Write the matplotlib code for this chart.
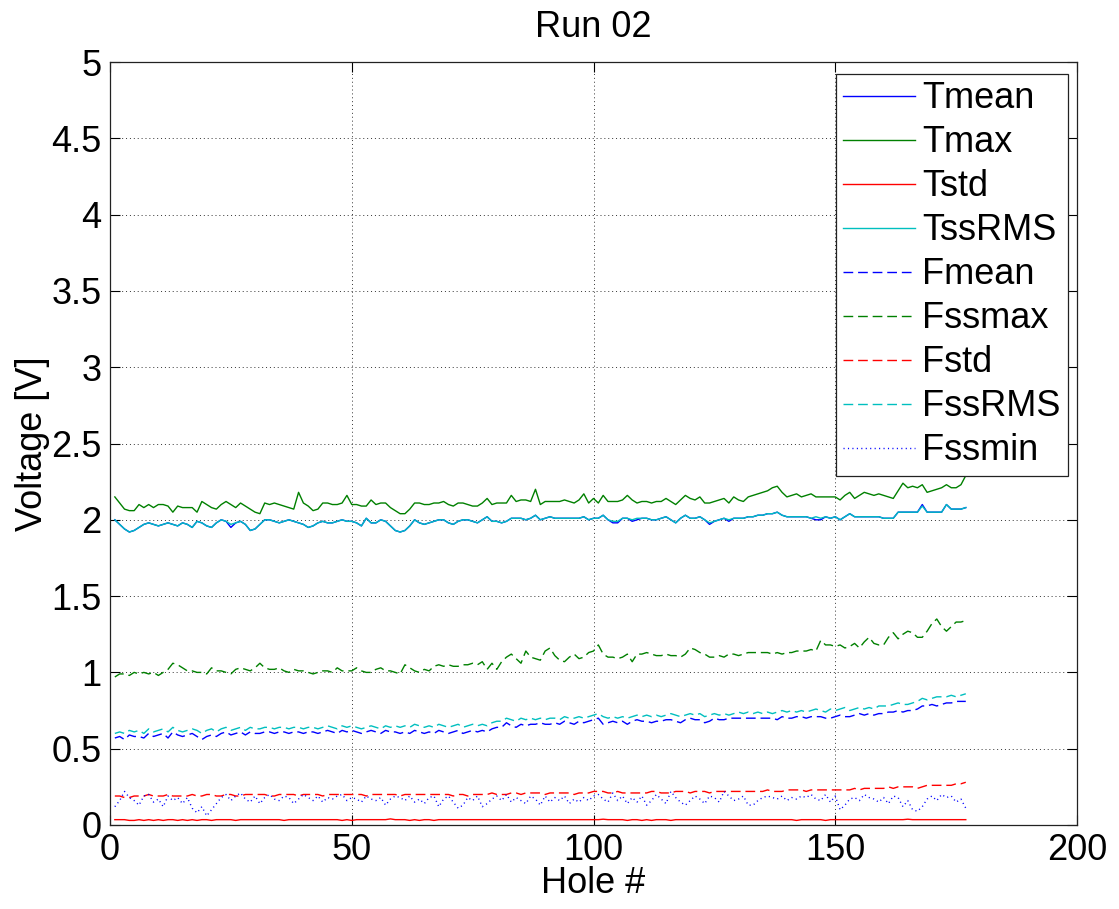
import matplotlib
matplotlib.use("Agg")
import matplotlib.pyplot as plt
import numpy as np

holes = list(range(1, 178))

tmax = [2.15,2.11,2.07,2.06,2.06,2.10,2.08,2.10,2.08,2.10,
        2.10,2.09,2.05,2.09,2.08,2.08,2.08,2.05,2.12,2.10,
        2.08,2.07,2.10,2.12,2.10,2.08,2.11,2.09,2.07,2.05,
        2.04,2.11,2.10,2.11,2.10,2.09,2.08,2.07,2.18,2.11,
        2.09,2.06,2.07,2.11,2.11,2.10,2.10,2.11,2.16,2.10,
        2.10,2.09,2.09,2.13,2.10,2.11,2.11,2.08,2.06,2.04,
        2.04,2.07,2.11,2.11,2.10,2.10,2.11,2.11,2.12,2.10,
        2.09,2.11,2.11,2.10,2.09,2.09,2.11,2.14,2.10,2.11,
        2.11,2.11,2.16,2.12,2.13,2.13,2.12,2.20,2.10,2.12,
        2.12,2.12,2.12,2.13,2.12,2.11,2.13,2.17,2.11,2.14,
        2.11,2.16,2.12,2.12,2.12,2.13,2.16,2.13,2.11,2.12,
        2.12,2.11,2.12,2.12,2.14,2.12,2.10,2.13,2.16,2.14,
        2.13,2.15,2.11,2.11,2.12,2.13,2.14,2.11,2.15,2.13,
        2.12,2.15,2.16,2.17,2.18,2.19,2.21,2.22,2.18,2.15,
        2.16,2.17,2.15,2.16,2.17,2.15,2.15,2.15,2.15,2.15,
        2.13,2.16,2.18,2.14,2.16,2.18,2.17,2.16,2.17,2.16,
        2.15,2.14,2.19,2.24,2.21,2.22,2.21,2.23,2.18,2.19,
        2.20,2.21,2.23,2.21,2.21,2.23,2.29]

tssrms = [2.00,1.97,1.94,1.92,1.93,1.95,1.97,1.98,1.97,1.96,
          1.97,1.98,1.97,1.96,1.98,1.97,1.95,1.99,1.98,1.96,
          1.95,1.98,2.00,1.99,1.97,1.98,1.99,1.97,1.93,1.94,
          1.97,2.00,2.00,1.99,1.98,1.99,2.00,1.99,1.98,1.97,
          1.95,1.96,1.98,1.99,1.98,1.98,1.99,2.00,1.99,1.99,
          1.98,1.96,2.01,1.98,1.98,2.00,1.99,1.96,1.93,1.92,
          1.93,1.96,2.00,1.98,1.97,1.98,1.99,2.00,2.00,1.98,
          1.97,1.99,2.00,2.00,1.99,1.98,2.00,2.02,1.99,1.99,
          1.98,1.99,2.01,2.01,2.01,2.00,2.01,2.03,2.00,2.01,
          2.02,2.01,2.01,2.01,2.01,2.01,2.01,2.02,2.00,2.01,
          2.01,2.03,2.00,1.99,1.99,2.01,2.01,2.00,2.01,2.01,
          2.01,2.00,2.00,2.01,2.02,2.00,1.98,2.01,2.03,2.01,
          2.01,2.02,2.00,1.98,1.99,2.00,2.01,2.00,2.01,2.01,
          2.01,2.02,2.02,2.03,2.03,2.04,2.04,2.05,2.03,2.02,
          2.02,2.02,2.02,2.02,2.01,2.02,2.01,2.02,2.01,2.02,
          2.00,2.02,2.04,2.02,2.02,2.02,2.02,2.02,2.02,2.01,
          2.01,2.01,2.05,2.05,2.05,2.05,2.05,2.09,2.05,2.05,
          2.05,2.05,2.10,2.07,2.07,2.07,2.08]

tmean = [2.00,1.97,1.94,1.92,1.93,1.95,1.97,1.98,1.97,1.96,
         1.97,1.98,1.97,1.96,1.98,1.97,1.95,1.99,1.98,1.96,
         1.95,1.98,2.00,1.99,1.95,1.98,1.99,1.97,1.93,1.94,
         1.97,2.00,2.00,1.99,1.98,1.99,2.00,1.99,1.98,1.97,
         1.95,1.96,1.98,1.99,1.98,1.98,1.99,2.00,1.99,1.99,
         1.98,1.96,2.01,1.98,1.98,2.00,1.99,1.96,1.93,1.92,
         1.93,1.96,2.00,1.98,1.97,1.98,1.99,2.00,2.00,1.98,
         1.97,1.99,2.00,2.00,1.99,1.98,2.00,2.02,1.99,1.99,
         1.98,1.99,2.01,2.01,2.01,2.00,2.01,2.03,2.00,2.01,
         2.02,2.01,2.01,2.01,2.01,2.01,2.01,2.02,2.00,2.01,
         2.01,2.03,2.00,1.98,1.98,2.01,2.01,1.99,2.00,2.01,
         2.01,2.00,2.00,2.01,2.02,2.00,1.98,2.01,2.03,2.01,
         2.01,2.02,2.00,1.97,1.99,2.00,2.01,1.99,2.01,2.01,
         2.01,2.02,2.02,2.03,2.03,2.04,2.04,2.05,2.03,2.02,
         2.02,2.02,2.02,2.02,2.01,2.00,2.00,2.02,2.01,2.02,
         2.00,2.02,2.04,2.02,2.02,2.02,2.02,2.02,2.02,2.01,
         2.01,2.01,2.05,2.05,2.05,2.05,2.05,2.10,2.05,2.05,
         2.05,2.05,2.10,2.07,2.07,2.07,2.08]

tstd = [0.035,0.035,0.035,0.030,0.030,0.035,0.030,0.035,0.030,0.035,
        0.030,0.035,0.035,0.030,0.035,0.030,0.035,0.030,0.035,0.035,
        0.030,0.035,0.035,0.035,0.035,0.030,0.035,0.035,0.035,0.035,
        0.035,0.035,0.035,0.035,0.035,0.030,0.035,0.035,0.035,0.035,
        0.035,0.035,0.035,0.035,0.035,0.035,0.035,0.030,0.035,0.030,
        0.035,0.035,0.035,0.035,0.035,0.035,0.035,0.040,0.035,0.035,
        0.035,0.030,0.035,0.030,0.035,0.035,0.030,0.035,0.035,0.035,
        0.035,0.035,0.035,0.035,0.035,0.035,0.035,0.035,0.035,0.035,
        0.035,0.035,0.035,0.035,0.035,0.035,0.035,0.035,0.035,0.035,
        0.035,0.035,0.035,0.035,0.035,0.035,0.035,0.035,0.035,0.035,
        0.035,0.038,0.035,0.035,0.035,0.035,0.030,0.035,0.035,0.030,
        0.035,0.030,0.035,0.035,0.035,0.030,0.035,0.035,0.035,0.035,
        0.035,0.035,0.035,0.035,0.035,0.035,0.035,0.035,0.035,0.035,
        0.035,0.035,0.035,0.035,0.035,0.035,0.035,0.035,0.035,0.035,
        0.035,0.030,0.035,0.035,0.035,0.035,0.035,0.030,0.035,0.035,
        0.035,0.035,0.035,0.035,0.035,0.035,0.035,0.035,0.035,0.035,
        0.035,0.035,0.035,0.035,0.038,0.035,0.035,0.035,0.035,0.035,
        0.035,0.035,0.035,0.035,0.035,0.035,0.035]

fmean = [0.57,0.58,0.56,0.59,0.58,0.58,0.57,0.60,0.58,0.59,
         0.60,0.57,0.61,0.59,0.58,0.59,0.60,0.58,0.56,0.58,
         0.59,0.58,0.60,0.61,0.59,0.60,0.61,0.59,0.61,0.60,
         0.60,0.61,0.61,0.60,0.61,0.61,0.60,0.61,0.61,0.60,
         0.61,0.61,0.60,0.61,0.62,0.61,0.60,0.62,0.61,0.62,
         0.61,0.60,0.61,0.62,0.61,0.60,0.62,0.61,0.61,0.60,
         0.61,0.60,0.62,0.61,0.60,0.61,0.60,0.62,0.61,0.60,
         0.61,0.62,0.60,0.61,0.62,0.61,0.62,0.61,0.63,0.64,
         0.64,0.67,0.65,0.64,0.66,0.65,0.66,0.66,0.67,0.66,
         0.66,0.67,0.66,0.68,0.67,0.66,0.68,0.67,0.68,0.69,
         0.70,0.66,0.67,0.68,0.67,0.68,0.66,0.68,0.69,0.68,
         0.68,0.67,0.68,0.68,0.69,0.69,0.68,0.67,0.69,0.70,
         0.69,0.69,0.67,0.68,0.70,0.69,0.69,0.70,0.70,0.70,
         0.70,0.70,0.70,0.70,0.70,0.70,0.70,0.69,0.71,0.70,
         0.70,0.71,0.71,0.70,0.71,0.71,0.71,0.70,0.70,0.71,
         0.72,0.71,0.71,0.72,0.73,0.72,0.73,0.72,0.73,0.73,
         0.74,0.74,0.75,0.74,0.75,0.75,0.76,0.78,0.78,0.79,
         0.78,0.79,0.80,0.80,0.81,0.81,0.81]

fssmax = [0.97,0.99,0.99,0.98,1.00,0.99,1.00,0.99,1.00,0.98,
          1.00,1.02,1.06,1.05,1.03,1.01,1.01,1.00,1.00,0.99,
          1.03,1.01,1.01,1.00,0.99,1.02,1.03,1.02,1.01,1.03,
          1.06,1.03,1.02,1.02,1.03,1.01,1.00,1.02,1.01,1.01,
          1.00,0.99,1.00,1.01,1.01,1.00,1.03,1.01,1.01,1.01,
          1.03,1.01,1.00,1.00,1.02,1.03,1.01,1.01,1.00,0.99,
          1.05,1.03,1.01,1.00,1.02,1.01,1.04,1.05,1.04,1.05,
          1.04,1.04,1.05,1.05,1.06,1.05,1.07,1.02,1.06,1.02,
          1.07,1.10,1.12,1.09,1.06,1.14,1.10,1.09,1.08,1.14,
          1.16,1.11,1.08,1.07,1.10,1.12,1.09,1.10,1.13,1.14,
          1.18,1.12,1.10,1.10,1.09,1.10,1.12,1.07,1.12,1.12,
          1.13,1.12,1.11,1.11,1.12,1.11,1.11,1.10,1.12,1.16,
          1.15,1.13,1.12,1.10,1.10,1.11,1.10,1.12,1.12,1.11,
          1.12,1.13,1.13,1.13,1.13,1.13,1.12,1.13,1.12,1.13,
          1.13,1.14,1.14,1.14,1.15,1.14,1.21,1.18,1.18,1.17,
          1.18,1.16,1.17,1.19,1.16,1.20,1.23,1.19,1.18,1.18,
          1.23,1.26,1.22,1.25,1.27,1.26,1.23,1.23,1.27,1.32,
          1.35,1.30,1.27,1.30,1.33,1.33,1.34]

fstd = [0.19,0.19,0.18,0.18,0.19,0.19,0.19,0.20,0.19,0.19,
        0.19,0.20,0.19,0.19,0.19,0.19,0.20,0.19,0.19,0.20,
        0.20,0.19,0.19,0.20,0.20,0.19,0.19,0.20,0.20,0.20,
        0.20,0.20,0.19,0.19,0.20,0.20,0.20,0.20,0.19,0.20,
        0.20,0.20,0.20,0.19,0.20,0.20,0.20,0.20,0.20,0.20,
        0.20,0.20,0.19,0.20,0.20,0.20,0.20,0.20,0.20,0.19,
        0.20,0.20,0.20,0.20,0.20,0.20,0.20,0.20,0.20,0.20,
        0.19,0.20,0.20,0.19,0.20,0.20,0.20,0.20,0.21,0.20,
        0.20,0.20,0.21,0.21,0.20,0.21,0.21,0.21,0.21,0.20,
        0.21,0.21,0.21,0.21,0.21,0.20,0.21,0.21,0.21,0.22,
        0.22,0.22,0.21,0.21,0.22,0.21,0.21,0.21,0.21,0.21,
        0.21,0.22,0.22,0.21,0.21,0.21,0.22,0.22,0.22,0.21,
        0.22,0.22,0.22,0.21,0.22,0.22,0.22,0.22,0.22,0.22,
        0.22,0.22,0.22,0.22,0.22,0.23,0.22,0.22,0.22,0.23,
        0.23,0.23,0.23,0.22,0.23,0.23,0.23,0.23,0.23,0.23,
        0.23,0.23,0.23,0.24,0.23,0.24,0.24,0.24,0.24,0.24,
        0.25,0.24,0.25,0.25,0.25,0.25,0.24,0.25,0.26,0.26,
        0.26,0.26,0.26,0.26,0.27,0.27,0.28]

fssrms = [0.60,0.61,0.60,0.62,0.61,0.62,0.60,0.63,0.61,0.62,
          0.63,0.61,0.64,0.62,0.61,0.62,0.63,0.62,0.60,0.62,
          0.63,0.61,0.63,0.64,0.62,0.63,0.64,0.62,0.64,0.63,
          0.63,0.64,0.64,0.63,0.64,0.64,0.63,0.64,0.64,0.63,
          0.64,0.64,0.63,0.64,0.65,0.64,0.63,0.65,0.64,0.65,
          0.64,0.63,0.64,0.65,0.64,0.63,0.65,0.64,0.65,0.64,
          0.65,0.64,0.66,0.65,0.64,0.65,0.64,0.66,0.65,0.64,
          0.65,0.66,0.64,0.65,0.66,0.65,0.66,0.65,0.67,0.68,
          0.68,0.70,0.69,0.68,0.70,0.69,0.70,0.69,0.70,0.69,
          0.70,0.70,0.69,0.71,0.70,0.70,0.71,0.70,0.71,0.72,
          0.73,0.71,0.70,0.71,0.70,0.71,0.70,0.71,0.72,0.71,
          0.72,0.71,0.72,0.71,0.72,0.73,0.72,0.71,0.72,0.73,
          0.72,0.73,0.71,0.72,0.73,0.72,0.73,0.72,0.73,0.74,
          0.73,0.74,0.73,0.74,0.73,0.74,0.73,0.74,0.75,0.74,
          0.75,0.74,0.75,0.74,0.75,0.76,0.75,0.74,0.76,0.75,
          0.76,0.77,0.75,0.76,0.77,0.76,0.77,0.76,0.78,0.78,
          0.78,0.79,0.80,0.79,0.79,0.80,0.81,0.83,0.82,0.83,
          0.84,0.84,0.84,0.85,0.84,0.85,0.86]

fssmin = [0.12,0.16,0.22,0.18,0.16,0.13,0.19,0.20,0.15,0.17,
          0.12,0.19,0.16,0.18,0.14,0.18,0.11,0.08,0.12,0.06,
          0.10,0.14,0.18,0.20,0.16,0.19,0.21,0.17,0.15,0.19,
          0.14,0.18,0.20,0.17,0.16,0.19,0.18,0.14,0.17,0.20,
          0.18,0.16,0.19,0.15,0.18,0.17,0.19,0.20,0.16,0.18,
          0.17,0.15,0.19,0.17,0.16,0.18,0.13,0.17,0.19,0.18,
          0.16,0.19,0.15,0.17,0.14,0.18,0.19,0.12,0.17,0.19,
          0.15,0.11,0.13,0.18,0.16,0.19,0.12,0.14,0.17,0.19,
          0.16,0.20,0.15,0.18,0.16,0.14,0.19,0.17,0.13,0.19,
          0.15,0.18,0.16,0.19,0.14,0.17,0.15,0.18,0.16,0.19,
          0.20,0.17,0.15,0.21,0.16,0.19,0.14,0.18,0.15,0.19,
          0.13,0.16,0.20,0.17,0.14,0.22,0.18,0.15,0.13,0.16,
          0.19,0.17,0.14,0.19,0.18,0.15,0.22,0.19,0.16,0.17,
          0.19,0.13,0.13,0.16,0.18,0.19,0.18,0.17,0.19,0.16,
          0.18,0.17,0.19,0.18,0.20,0.17,0.16,0.20,0.15,0.19,
          0.10,0.13,0.17,0.18,0.16,0.20,0.18,0.17,0.15,0.18,
          0.14,0.19,0.18,0.12,0.16,0.10,0.09,0.12,0.17,0.19,
          0.16,0.20,0.18,0.19,0.15,0.17,0.11]

labels = ["Tmean", "Tmax", "Tstd", "TssRMS", "Fmean", "Fssmax", "Fstd", "FssRMS", "Fssmin"]

plt.rcParams['font.family'] = ['Liberation Sans', 'DejaVu Sans']
FS = 26

fig = plt.figure(figsize=(11.19, 9.09), dpi=100)
ax = fig.add_axes([110/1119, 84/909, 967/1119, 763/909])

blue = (0, 0, 1)
green = (0, 0.5, 0)
red = (1, 0, 0)
cyan = (0, 0.75, 0.75)
lw = 1.0
dash = (7, 3.5)
dot = (0.8, 2.4)

ax.plot(holes, tmean, color=blue, lw=lw, label=labels[0])
ax.plot(holes, tmax, color=green, lw=lw, label=labels[1])
ax.plot(holes, tstd, color=red, lw=lw, label=labels[2])
ax.plot(holes, tssrms, color=cyan, lw=lw, label=labels[3])
ax.plot(holes, fmean, color=blue, lw=lw, dashes=dash, label=labels[4])
ax.plot(holes, fssmax, color=green, lw=lw, dashes=dash, label=labels[5])
ax.plot(holes, fstd, color=red, lw=lw, dashes=dash, label=labels[6])
ax.plot(holes, fssrms, color=cyan, lw=lw, dashes=dash, label=labels[7])
ax.plot(holes, fssmin, color=blue, lw=lw, dashes=dot, label=labels[8])

ax.set_xlim(0, 200)
ax.set_ylim(0, 5)
ax.set_xticks([0, 50, 100, 150, 200])
ax.set_yticks(np.arange(0, 5.01, 0.5))
ax.set_yticklabels(["0", "0.5", "1", "1.5", "2", "2.5", "3", "3.5", "4", "4.5", "5"])
ax.grid(True, color='#333333', linestyle=(0, (1, 3)), linewidth=0.7)
ax.tick_params(direction='in', length=7, width=0.8, top=True, right=True,
               labelsize=FS, pad=6)
for s in ax.spines.values():
    s.set_linewidth(0.9)
    s.set_color('#222222')

ax.set_title("Run 02", fontsize=FS, pad=18)
ax.set_xlabel("Hole #", fontsize=FS, labelpad=-2)
ax.set_ylabel("Voltage [V]", fontsize=FS, labelpad=1)

leg = ax.legend(loc='upper right', bbox_to_anchor=(1 - 9/967, 1 - 12/763),
                borderaxespad=0, fontsize=FS, handlelength=2.0,
                handletextpad=0.2, labelspacing=0.25, borderpad=0.2,
                fancybox=False, framealpha=1, edgecolor='#222222')
leg.get_frame().set_linewidth(0.9)

fig.savefig("out.png", dpi=100)
